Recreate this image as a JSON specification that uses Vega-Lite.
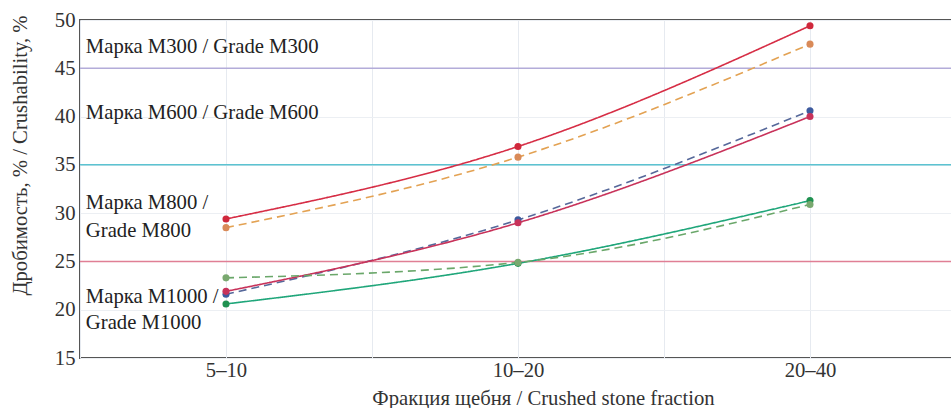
{
  "$schema": "https://vega.github.io/schema/vega-lite/v6.json",
  "width": 876,
  "height": 338,
  "autosize": {"type": "none"},
  "padding": {"left": 80, "top": 20, "right": 0, "bottom": 50},
  "background": "white",
  "config": {
    "view": {"stroke": "#555555", "strokeWidth": 2},
    "font": "Liberation Serif"
  },
  "datasets": {
    "series": [
      {"x": 1, "s": "M300a", "y": 29.4},
      {"x": 2, "s": "M300a", "y": 36.9},
      {"x": 3, "s": "M300a", "y": 49.4},
      {"x": 1, "s": "M300b", "y": 28.5},
      {"x": 2, "s": "M300b", "y": 35.8},
      {"x": 3, "s": "M300b", "y": 47.5},
      {"x": 1, "s": "M600b", "y": 21.6},
      {"x": 2, "s": "M600b", "y": 29.3},
      {"x": 3, "s": "M600b", "y": 40.6},
      {"x": 1, "s": "M600a", "y": 21.9},
      {"x": 2, "s": "M600a", "y": 29.0},
      {"x": 3, "s": "M600a", "y": 40.0},
      {"x": 1, "s": "M1000a", "y": 20.6},
      {"x": 2, "s": "M1000a", "y": 24.8},
      {"x": 3, "s": "M1000a", "y": 31.3},
      {"x": 1, "s": "M1000b", "y": 23.3},
      {"x": 2, "s": "M1000b", "y": 24.9},
      {"x": 3, "s": "M1000b", "y": 30.9}
    ],
    "hlines": [
      {"y": 45, "c": "#b3acd9"},
      {"y": 35, "c": "#5cc3d1"},
      {"y": 25, "c": "#e07f95"}
    ],
    "labels": [
      {"x": 0.52, "y": 47.2, "text": "Марка М300 / Grade M300"},
      {"x": 0.52, "y": 40.4, "text": "Марка М600 / Grade M600"},
      {"x": 0.52, "y": 31.0, "text": "Марка М800 /"},
      {"x": 0.52, "y": 28.2, "text": "Grade M800"},
      {"x": 0.52, "y": 21.3, "text": "Марка М1000 /"},
      {"x": 0.52, "y": 18.6, "text": "Grade M1000"}
    ]
  },
  "layer": [
    {
      "data": {"name": "hlines"},
      "mark": {"type": "rule", "strokeWidth": 1.5},
      "encoding": {
        "y": {"field": "y", "type": "quantitative"},
        "color": {"field": "c", "type": "nominal", "scale": null}
      }
    },
    {
      "data": {"name": "series"},
      "mark": {"type": "line", "interpolate": "monotone", "strokeWidth": 1.6},
      "encoding": {
        "x": {
          "field": "x", "type": "quantitative",
          "scale": {"domain": [0.5, 3.5], "nice": false, "zero": false},
          "axis": {
            "values": [0.5, 1, 1.5, 2, 2.5, 3, 3.5],
            "labelExpr": "datum.value == 1 ? '5–10' : datum.value == 2 ? '10–20' : datum.value == 3 ? '20–40' : ''",
            "title": "Фракция щебня / Crushed stone fraction",
            "titleX": 463,
            "titleY": 40,
            "titleBaseline": "middle",
            "titleFont": "Liberation Serif",
            "titleFontSize": 20.7,
            "titleFontWeight": "normal",
            "titleColor": "#333333",
            "labelFont": "Liberation Serif",
            "labelFontSize": 20.7,
            "labelColor": "#333333",
            "labelPadding": 2,
            "ticks": false,
            "domain": false,
            "grid": true,
            "gridColor": "#e6eaf0",
            "gridWidth": 1
          }
        },
        "y": {
          "field": "y", "type": "quantitative",
          "scale": {"domain": [15, 50], "nice": false, "zero": false},
          "axis": {
            "values": [15, 20, 25, 30, 35, 40, 45, 50],
            "title": "Дробимость, % / Crushability, %",
            "titleX": -60,
            "titleY": 135,
            "titleBaseline": "middle",
            "titleAngle": -90,
            "titleFont": "Liberation Serif",
            "titleFontSize": 20.7,
            "titleFontWeight": "normal",
            "titleColor": "#333333",
            "labelFont": "Liberation Serif",
            "labelFontSize": 20.7,
            "labelColor": "#333333",
            "labelPadding": 5,
            "ticks": false,
            "domain": false,
            "grid": true,
            "gridColor": "#eceff3",
            "gridWidth": 1
          }
        },
        "color": {
          "field": "s", "type": "nominal", "legend": null,
          "scale": {
            "domain": ["M300a", "M300b", "M600b", "M600a", "M1000a", "M1000b"],
            "range": ["#d62d45", "#e3a253", "#56689a", "#c8325a", "#1fa67a", "#6aa76a"]
          }
        },
        "strokeDash": {
          "field": "s", "type": "nominal", "legend": null,
          "scale": {
            "domain": ["M300a", "M300b", "M600b", "M600a", "M1000a", "M1000b"],
            "range": [[1, 0], [8, 5], [8, 5], [1, 0], [1, 0], [8, 5]]
          }
        }
      }
    },
    {
      "data": {"name": "series"},
      "mark": {"type": "point", "filled": true, "size": 50, "opacity": 1},
      "encoding": {
        "x": {"field": "x", "type": "quantitative"},
        "y": {"field": "y", "type": "quantitative"},
        "fill": {
          "field": "s", "type": "nominal", "legend": null,
          "scale": {
            "domain": ["M300a", "M300b", "M600b", "M600a", "M1000a", "M1000b"],
            "range": ["#d0283c", "#d98a58", "#3d5a9e", "#c8325a", "#1f9150", "#79a86f"]
          }
        }
      }
    },
    {
      "data": {"name": "labels"},
      "mark": {"type": "text", "align": "left", "baseline": "middle", "font": "Liberation Serif", "fontSize": 20.7, "color": "#222222"},
      "encoding": {
        "x": {"field": "x", "type": "quantitative"},
        "y": {"field": "y", "type": "quantitative"},
        "text": {"field": "text"}
      }
    }
  ]
}
